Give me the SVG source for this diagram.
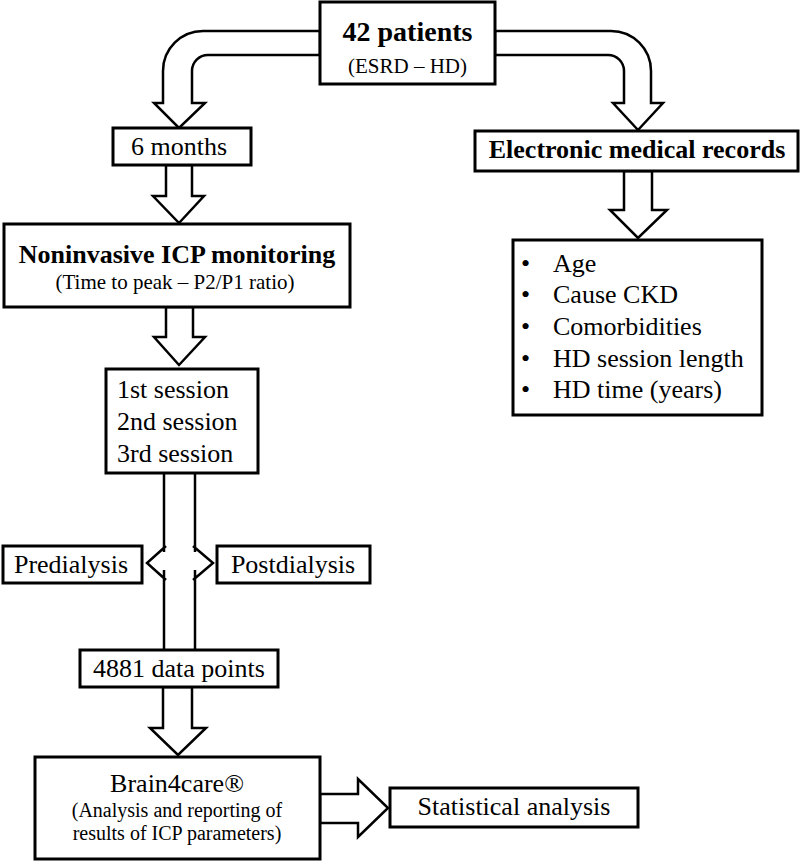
<svg xmlns="http://www.w3.org/2000/svg" width="800" height="863" viewBox="0 0 800 863">
<style>
.box{fill:#fff;stroke:#000;stroke-width:3}
.arr{fill:#fff;stroke:#000;stroke-width:2.5;stroke-linejoin:miter}
.ln{fill:none;stroke:#000;stroke-width:2.5;stroke-linejoin:miter}
text{font-family:"Liberation Serif","Times New Roman",serif;fill:#000}
.t{font-size:26px}
.b{font-size:26px;font-weight:bold}
.s{font-size:20px}
.m{text-anchor:middle}
</style>
<rect width="800" height="863" fill="#fff"/>
<g id="connectors">
<path class="arr" d="M320,31 H203 A40,40 0 0 0 163,71 V103 H154 L179,128 L205,103 H192 V71 A16,16 0 0 1 208,55 H320 Z"/>
<path class="arr" d="M495,31 H611 A40,40 0 0 1 651,71 V103 H663 L638,130 L613,103 H624 V71 A16,16 0 0 0 608,55 H495 Z"/>
<path class="arr" d="M166,165 V196 H153 L179,223 L204,196 H192 V165 Z"/>
<path class="arr" d="M166,307 V337 H154 L179,365 L205,337 H193 V307 Z"/>
<path d="M164,473 V650 H195 V473 Z" fill="#fff"/>
<path class="ln" d="M164,473 V552 M164,570 V650 M195,473 V552 M195,570 V650 M166,546 L147,563 L166,580 M193,546 L213,563 L193,580"/>
<path class="arr" d="M163,687 V728 H150 L178,755 L206,728 H192 V687 Z"/>
<path class="arr" d="M320,794 H358 V779 L388,808 L358,837 V823 H320 Z"/>
<path class="arr" d="M624,171 V210 H610 L638,238 L667,210 H652 V171 Z"/>
</g>
<g id="patients">
<rect class="box" x="320" y="2" width="175" height="82"/>
<text class="m" x="407.5" y="41" style="font-size:28px;font-weight:bold">42 patients</text>
<text class="m" x="407.5" y="73" style="font-size:21px">(ESRD – HD)</text>
</g>
<g id="months">
<rect class="box" x="113" y="128" width="138" height="37"/>
<text class="t m" x="179" y="155">6 months</text>
</g>
<g id="records">
<rect class="box" x="475" y="131" width="323" height="40"/>
<text class="b m" x="637" y="158">Electronic medical records</text>
</g>
<g id="icp">
<rect class="box" x="4" y="224" width="346" height="83"/>
<text class="b m" x="177" y="263">Noninvasive ICP monitoring</text>
<text class="m" x="175" y="289" style="font-size:21px">(Time to peak – P2/P1 ratio)</text>
</g>
<g id="sessions">
<rect class="box" x="106" y="369" width="152" height="104"/>
<text class="t" x="117" y="398">1st session</text>
<text class="t" x="117" y="430">2nd session</text>
<text class="t" x="117" y="462">3rd session</text>
</g>
<g id="variables">
<rect class="box" x="513" y="240" width="249" height="175"/>
<text class="t" x="521" y="272">•</text><text class="t" x="553" y="272">Age</text>
<text class="t" x="521" y="303">•</text><text class="t" x="553" y="303">Cause CKD</text>
<text class="t" x="521" y="335">•</text><text class="t" x="553" y="335">Comorbidities</text>
<text class="t" x="521" y="367">•</text><text class="t" x="553" y="367">HD session length</text>
<text class="t" x="521" y="398">•</text><text class="t" x="553" y="398">HD time (years)</text>
</g>
<g id="pre">
<rect class="box" x="3" y="546" width="139" height="37"/>
<text class="t m" x="71" y="573">Predialysis</text>
</g>
<g id="post">
<rect class="box" x="217" y="546" width="153" height="37"/>
<text class="t m" x="293" y="573">Postdialysis</text>
</g>
<g id="datapoints">
<rect class="box" x="80" y="650" width="198" height="37"/>
<text class="t m" x="179" y="677">4881 data points</text>
</g>
<g id="brain4care">
<rect class="box" x="35" y="757" width="285" height="102"/>
<text class="t m" x="177" y="792">Brain4care®</text>
<text class="s m" x="177" y="817">(Analysis and reporting of</text>
<text class="s m" x="177" y="840">results of ICP parameters)</text>
</g>
<g id="stats">
<rect class="box" x="390" y="788" width="248" height="39"/>
<text class="t m" x="514" y="815">Statistical analysis</text>
</g>
</svg>
